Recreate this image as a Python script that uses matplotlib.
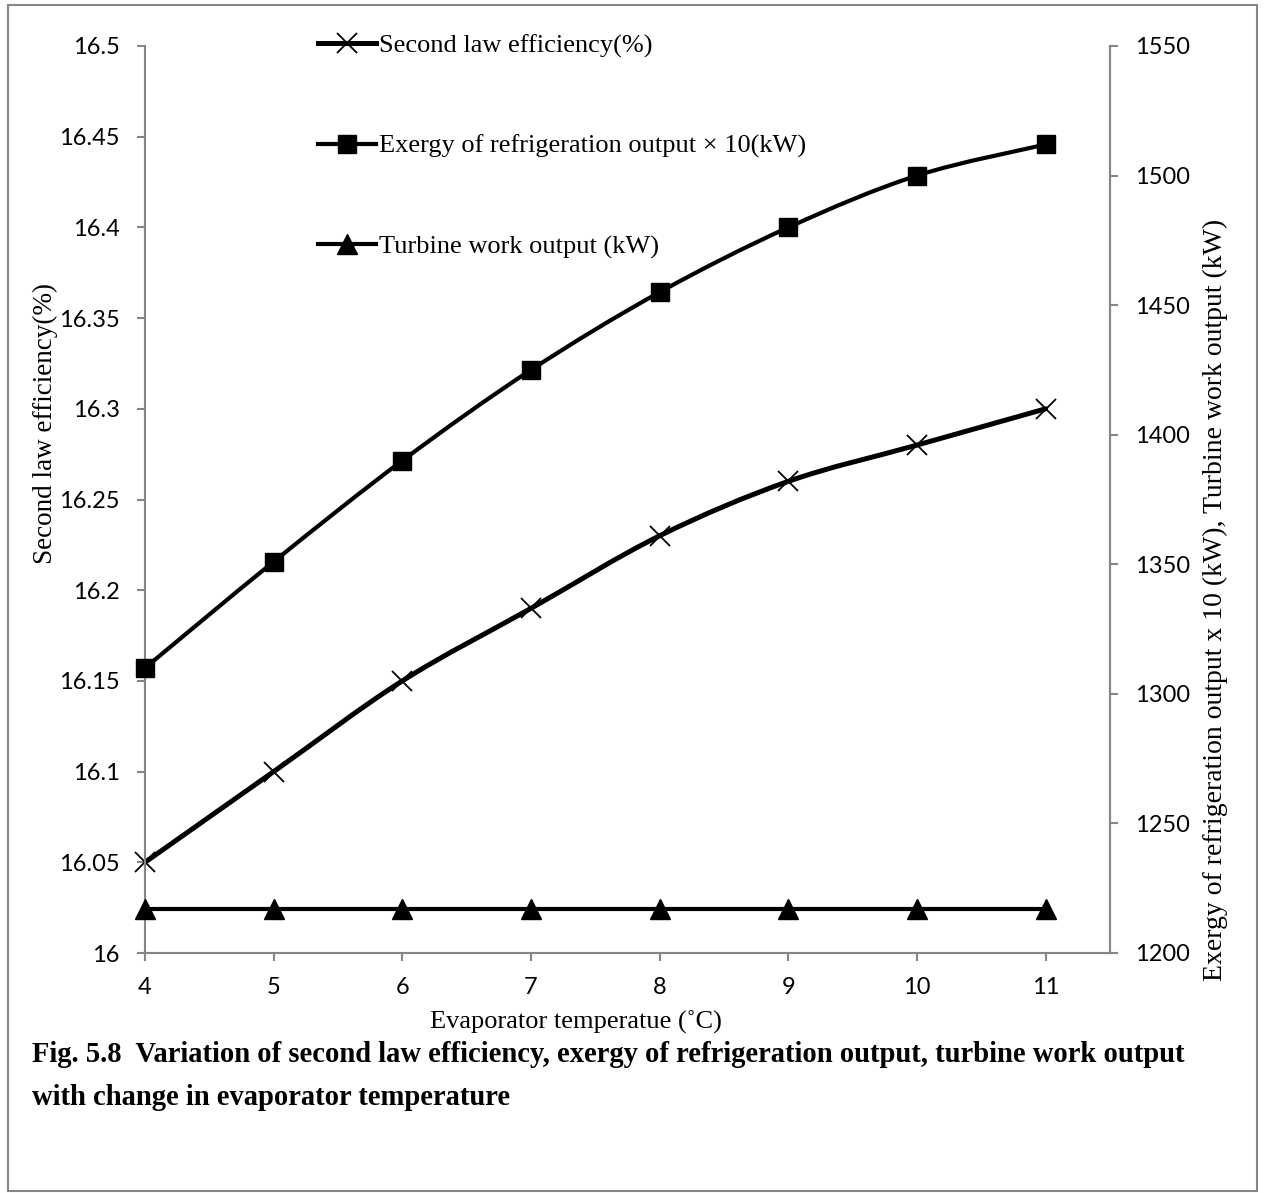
import matplotlib
matplotlib.use("Agg")
import matplotlib.pyplot as plt
from matplotlib.path import Path
from matplotlib.patches import PathPatch, Rectangle
from matplotlib.lines import Line2D

# dados
temp_evap = [4, 5, 6, 7, 8, 9, 10, 11]
eficiencia_2lei = [16.05, 16.10, 16.15, 16.19, 16.23, 16.26, 16.28, 16.30]
exergia_refrig = [1310, 1351, 1390, 1425, 1455, 1480, 1500, 1512]
trabalho_turbina = [1217, 1217, 1217, 1217, 1217, 1217, 1217, 1217]

rotulos = ["Second law efficiency(%)",
           "Exergy of refrigeration output \u00d7 10(kW)",
           "Turbine work output (kW)"]

cinza = "#868686"
serif = "Liberation Serif"
num_font = "Lato"


def curva_suave(x, y):
    # linha suavizada estilo Excel (Catmull-Rom -> Bezier)
    pts = list(zip(x, y))
    n = len(pts)
    verts = [pts[0]]
    codes = [Path.MOVETO]
    for i in range(n - 1):
        p0 = pts[i - 1] if i > 0 else pts[i]
        p1 = pts[i]
        p2 = pts[i + 1]
        p3 = pts[i + 2] if i + 2 < n else pts[i + 1]
        c1 = (p1[0] + (p2[0] - p0[0]) / 6, p1[1] + (p2[1] - p0[1]) / 6)
        c2 = (p2[0] - (p3[0] - p1[0]) / 6, p2[1] - (p3[1] - p1[1]) / 6)
        verts += [c1, c2, p2]
        codes += [Path.CURVE4] * 3
    return Path(verts, codes)


fig = plt.figure(figsize=(12.64, 11.93), dpi=100)
fig.patches.append(Rectangle((8 / 1264, 1 - 1191 / 1193), 1249 / 1264, 1186 / 1193,
                             transform=fig.transFigure, fill=False,
                             edgecolor=cinza, linewidth=1.5))

ax = fig.add_axes([145 / 1264, 1 - 953 / 1193, 965 / 1264, 907 / 1193])
ax2 = ax.twinx()

ax.add_patch(PathPatch(curva_suave(temp_evap, eficiencia_2lei), fill=False,
                       edgecolor="black", linewidth=3.6, capstyle="round"))
ax.plot(temp_evap, eficiencia_2lei, linestyle="none", marker="x", ms=14,
        mew=1.3, color="black", clip_on=False, zorder=5)

ax2.add_patch(PathPatch(curva_suave(temp_evap, exergia_refrig), fill=False,
                        edgecolor="black", linewidth=3.0))
ax2.plot(temp_evap, exergia_refrig, linestyle="none", marker="s", ms=13,
         color="black", clip_on=False, zorder=5)
ax2.plot(temp_evap, trabalho_turbina, linestyle="-", linewidth=3.0, marker="^",
         ms=14, color="black", clip_on=False, zorder=5)

ax.set_xlim(4, 11.5)
ax.set_ylim(16, 16.5)
ax.set_yticks([16, 16.05, 16.1, 16.15, 16.2, 16.25, 16.3, 16.35, 16.4, 16.45, 16.5])
ax.set_yticklabels(["16", "16.05", "16.1", "16.15", "16.2", "16.25", "16.3",
                    "16.35", "16.4", "16.45", "16.5"])
ax.set_xticks(temp_evap)
ax2.set_ylim(1200, 1550)
ax2.set_yticks(range(1200, 1551, 50))

for a in (ax, ax2):
    a.spines["top"].set_visible(False)
    for s in a.spines.values():
        s.set_color(cinza)
        s.set_linewidth(1.5)
    a.tick_params(colors=cinza, labelcolor="black", length=6, width=1.5,
                  direction="out", labelsize=17)
    for t in a.get_xticklabels() + a.get_yticklabels():
        t.set_fontfamily(num_font)
ax.tick_params(axis="y", pad=12)
ax.tick_params(axis="x", pad=11)
ax2.tick_params(axis="y", pad=12)

# eixos / rotulos
fig.text(576 / 1264, 1 - 1022 / 1193, "Evaporator temperatue (\u02daC)",
         family=serif, fontsize=19, ha="center", va="center")
fig.text(45 / 1264, 1 - 424 / 1193, "Second law efficiency(%)",
         family=serif, fontsize=19.5, ha="center", va="center", rotation=90)
fig.text(1215 / 1264, 1 - 600 / 1193,
         "Exergy of refrigeration output x 10 (kW), Turbine work output (kW)",
         family=serif, fontsize=20, ha="center", va="center", rotation=90)

# legenda
handles = [
    Line2D([], [], color="black", lw=3.6, marker="x", ms=14, mew=1.3),
    Line2D([], [], color="black", lw=3.0, marker="s", ms=13),
    Line2D([], [], color="black", lw=3.0, marker="^", ms=14),
]
ax.legend(handles, rotulos, loc="upper left",
          bbox_to_anchor=(318 / 1264, 1 - 34 / 1193),
          bbox_transform=fig.transFigure, frameon=False,
          prop={"family": serif, "size": 19}, handlelength=2.2,
          handletextpad=0.1, labelspacing=2.9, borderpad=0, borderaxespad=0)

# legenda da figura
fig.text(32 / 1264, 1 - 1062 / 1193,
         "Fig. 5.8  Variation of second law efficiency, exergy of refrigeration output, turbine work output",
         family=serif, fontsize=20.6, fontweight="bold", ha="left", va="baseline")
fig.text(32 / 1264, 1 - 1105 / 1193, "with change in evaporator temperature",
         family=serif, fontsize=20.6, fontweight="bold", ha="left", va="baseline")

fig.savefig("out.png", dpi=100)
